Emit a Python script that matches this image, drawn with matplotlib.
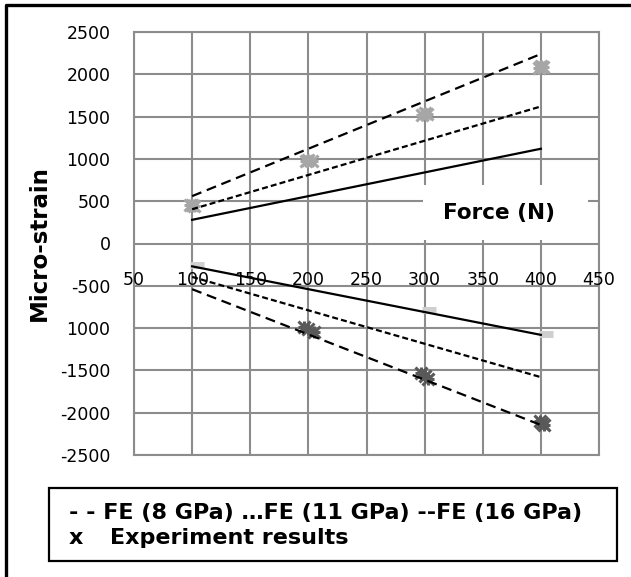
import matplotlib
matplotlib.use("Agg")
import matplotlib.pyplot as plt
import matplotlib.transforms as mtransforms
from matplotlib.patches import Rectangle
from matplotlib.lines import Line2D

# --- data ---
force = [100, 200, 300, 400]

# FE predictions (tension side / compression side)
fe8_top = [560, 1120, 1680, 2240]
fe11_top = [405, 810, 1215, 1620]
fe16_top = [280, 560, 840, 1120]
fe8_bot = [-540, -1075, -1610, -2145]
fe11_bot = [-395, -790, -1185, -1580]
fe16_bot = [-270, -540, -810, -1080]

# experiment readings (repeated runs)
exp_top_force = [98, 100, 102, 198, 200, 203, 298, 300, 302, 398, 400, 402]
exp_top_val = [450, 460, 445, 975, 990, 980, 1520, 1545, 1535, 2080, 2095, 2085]
exp_bot_force = [196, 200, 205, 297, 300, 303, 399, 401, 403]
exp_bot_val = [-990, -1010, -1045, -1530, -1565, -1600, -2100, -2120, -2140]
# light grey gauge readings on compression side
gauge_force = [104, 304, 404]
gauge_val = [-255, -785, -1075]

xticks = [50, 100, 150, 200, 250, 300, 350, 400, 450]
yticks = [-2500, -2000, -1500, -1000, -500, 0, 500, 1000, 1500, 2000, 2500]
ytick_labels = ['-2500', '-2000', '-1500', '1000', '-500', '0', '500', '1000', '1500', '2000', '2500']

fig = plt.figure(figsize=(6.31, 5.77), dpi=100)
ax = fig.add_axes([134 / 631, 1 - 455 / 577, 465 / 631, 423 / 577])

ax.set_xlim(50, 450)
ax.set_ylim(-2500, 2500)
ax.set_xticks(xticks)
ax.set_yticks(yticks)
ax.set_yticklabels(ytick_labels)
ax.grid(True, color='#8c8c8c', linewidth=1.5)
ax.set_axisbelow(True)
ax.tick_params(axis='both', length=0)
ax.tick_params(axis='y', pad=17, labelsize=12.5)
ax.tick_params(axis='x', labelbottom=False)
for sp in ax.spines.values():
    sp.set_color('#8c8c8c')
    sp.set_linewidth(1.5)

# x tick labels sit next to the zero line (Excel style)
off = mtransforms.offset_copy(ax.transData, fig=fig, y=-36.5, units='dots')
for xt in xticks:
    ax.text(xt, 0, str(xt), transform=off, ha='center', va='center', fontsize=12.5, zorder=5)

# white box behind the axis title
ax.add_patch(Rectangle((0.6215, 0.508), 0.355, 0.13, transform=ax.transAxes,
                       facecolor='white', edgecolor='none', zorder=2))
ax.text(0.785, 0.5725, 'Force (N)', transform=ax.transAxes, ha='center', va='center',
        fontsize=15.5, fontweight='bold', zorder=3)

long_dash = (0, (4.5, 2.6))
short_dash = (0, (2.7, 1.4))
lw = 1.6
ax.plot(force, fe8_top, color='black', lw=lw, linestyle=long_dash, zorder=4)
ax.plot(force, fe11_top, color='black', lw=lw, linestyle=short_dash, zorder=4)
ax.plot(force, fe16_top, color='black', lw=lw, linestyle='-', zorder=4)
ax.plot(force, fe8_bot, color='black', lw=lw, linestyle=long_dash, zorder=4)
ax.plot(force, fe11_bot, color='black', lw=lw, linestyle=short_dash, zorder=4)
ax.plot(force, fe16_bot, color='black', lw=lw, linestyle='-', zorder=4)

# experiment markers
for mk in ['x', '+']:
    ax.plot(exp_top_force, exp_top_val, linestyle='none', marker=mk, markersize=8,
            markeredgewidth=2.2, color='#a6a6a6', zorder=3)
    ax.plot(exp_bot_force, exp_bot_val, linestyle='none', marker=mk, markersize=8,
            markeredgewidth=2.2, color='#595959', zorder=3)
ax.plot(gauge_force, gauge_val, linestyle='none', marker='_', markersize=10,
        markeredgewidth=5, color='#cfcfcf', zorder=3)

# y axis title
fig.text(39 / 631, 1 - 243 / 577, 'Micro-strain', rotation=90, ha='center', va='center',
         fontsize=16.5, fontweight='bold')

# legend drawn as a text box
fig.patches.append(Rectangle((49 / 631, 1 - 561 / 577), 568 / 631, 73 / 577,
                             transform=fig.transFigure, facecolor='white',
                             edgecolor='black', linewidth=1.6))
fig.text(69 / 631, 1 - 513 / 577, '- - FE (8 GPa) \u2026FE (11 GPa) --FE (16 GPa)',
         ha='left', va='center', fontsize=16, fontweight='bold')
fig.text(69 / 631, 1 - 538 / 577, 'x', ha='left', va='center', fontsize=16, fontweight='bold')
fig.text(110 / 631, 1 - 538 / 577, 'Experiment results', ha='left', va='center',
         fontsize=16, fontweight='bold')

# outer frame (left and top edges visible)
fig.lines.append(Line2D([6 / 631, 6 / 631, 1.01], [-0.01, 1 - 5 / 577, 1 - 5 / 577],
                        transform=fig.transFigure, color='black', linewidth=2.4))

fig.savefig('out.png', dpi=100)
